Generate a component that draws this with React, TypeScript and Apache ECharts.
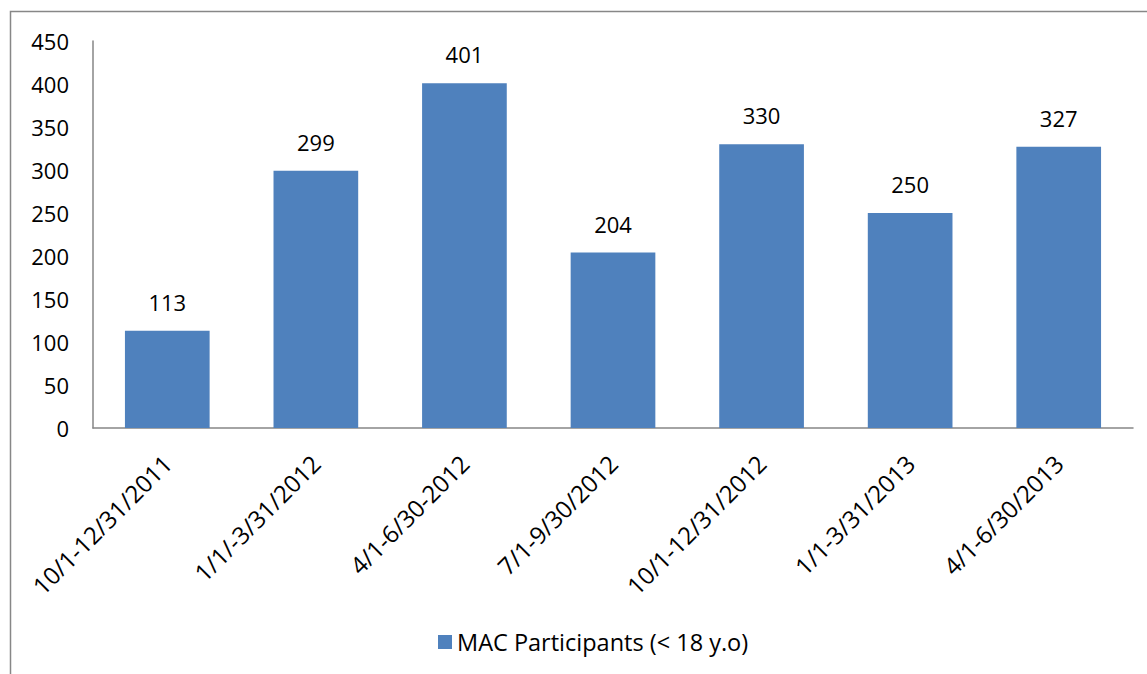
import React, { useEffect, useRef } from "react";
import * as echarts from "echarts";

const categories = [
  "10/1-12/31/2011",
  "1/1/-3/31/2012",
  "4/1-6/30-2012",
  "7/1-9/30/2012",
  "10/1-12/31/2012",
  "1/1-3/31/2013",
  "4/1-6/30/2013",
];
const participants = [113, 299, 401, 204, 330, 250, 327];
const seriesName = "MAC Participants (< 18 y.o)";

const FONT = "'Open Sans', 'Noto Sans', sans-serif";

export default function App() {
  const ref = useRef<HTMLDivElement>(null);
  useEffect(() => {
    const chart = echarts.init(ref.current!, null, { renderer: "svg" });
    chart.setOption({
      animation: false,
      backgroundColor: "#ffffff",
      textStyle: { fontFamily: FONT },
      graphic: [
        {
          type: "rect",
          shape: { x: 10.5, y: 11.5, width: 1400, height: 1000 },
          style: { fill: "none", stroke: "#878787", lineWidth: 1.5 },
          silent: true,
        },
      ],
      grid: { left: 93, right: 14, top: 41, bottom: 246, containLabel: false },
      legend: {
        bottom: 15,
        left: 433,
        itemWidth: 14,
        itemHeight: 14,
        itemGap: 8,
        icon: "rect",
        textStyle: { fontSize: 23.5, color: "#000", fontFamily: FONT },
        data: [seriesName],
      },
      xAxis: {
        type: "category",
        data: categories,
        axisLine: { lineStyle: { color: "#868686", width: 1.5 } },
        axisTick: { show: false },
        axisLabel: {
          rotate: 45,
          interval: 0,
          margin: 31,
          fontSize: 24,
          color: "#000",
          fontFamily: FONT,
        },
      },
      yAxis: {
        type: "value",
        min: 0,
        max: 450,
        interval: 50,
        axisLine: { show: true, lineStyle: { color: "#868686", width: 1.5 } },
        axisTick: { show: false },
        splitLine: { show: false },
        axisLabel: { fontSize: 22, color: "#000", margin: 24, fontFamily: FONT },
      },
      series: [
        {
          name: seriesName,
          type: "bar",
          data: participants,
          barWidth: "57%",
          itemStyle: { color: "#4F81BD" },
          label: {
            show: true,
            position: "top",
            distance: 18,
            fontSize: 22,
            color: "#000",
            fontFamily: FONT,
          },
        },
      ],
    });
    return () => chart.dispose();
  }, []);
  return (
    <div
      ref={ref}
      style={{ position: "fixed", left: 0, top: 0, width: 1147, height: 674 }}
    />
  );
}
